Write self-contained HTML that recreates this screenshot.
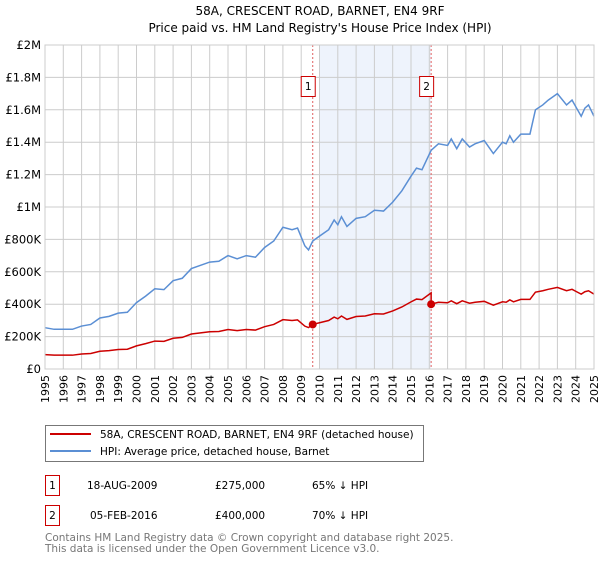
<!DOCTYPE html>
<html><head><meta charset="utf-8"><style>
body{margin:0;background:#fff;font-family:"DejaVu Sans","Liberation Sans",sans-serif;}
svg text{font-family:"DejaVu Sans","Liberation Sans",sans-serif;}
</style></head><body>
<svg id="c" width="600" height="560" xmlns="http://www.w3.org/2000/svg">
<text x="320" y="15" text-anchor="middle" font-size="12" fill="#000">58A, CRESCENT ROAD, BARNET, EN4 9RF</text>
<text x="320" y="32" text-anchor="middle" font-size="12" fill="#000">Price paid vs. HM Land Registry's House Price Index (HPI)</text>
<g id="grid"></g><g id="marks"></g><g id="axes"></g>
<g>
<rect x="45.5" y="425.5" width="378" height="36" fill="#fff" stroke="#777"/>
<line x1="50" y1="434" x2="91" y2="434" stroke="#cc0000" stroke-width="2"/>
<text x="100" y="438" font-size="10.5">58A, CRESCENT ROAD, BARNET, EN4 9RF (detached house)</text>
<line x1="50" y1="451" x2="91" y2="451" stroke="#5b8fd4" stroke-width="2"/>
<text x="100" y="455" font-size="10.5">HPI: Average price, detached house, Barnet</text>
</g>
<g font-size="10.5">
<rect x="45.5" y="475.5" width="14" height="20" fill="#fff" stroke="#cc0000"/>
<text x="52.5" y="489" text-anchor="middle">1</text>
<text x="87" y="489">18-AUG-2009</text><text x="215" y="489">£275,000</text><text x="312" y="489">65% ↓ HPI</text>
<rect x="45.5" y="505.5" width="14" height="20" fill="#fff" stroke="#cc0000"/>
<text x="52.5" y="519" text-anchor="middle">2</text>
<text x="90" y="519">05-FEB-2016</text><text x="215" y="519">£400,000</text><text x="312" y="519">70% ↓ HPI</text>
</g>
<text x="45" y="541" font-size="10.5" fill="#777">Contains HM Land Registry data © Crown copyright and database right 2025.</text>
<text x="45" y="552" font-size="10.5" fill="#777">This data is licensed under the Open Government Licence v3.0.</text>
</svg>
<script>
const hpiYears=[1995,1995.5,1996,1996.5,1997,1997.5,1998,1998.5,1999,1999.5,2000,2000.5,2001,2001.5,2002,2002.5,2003,2003.5,2004,2004.5,2005,2005.5,2006,2006.5,2007,2007.5,2008,2008.5,2008.8,2009.2,2009.4,2009.63,2010,2010.5,2010.8,2011,2011.2,2011.5,2012,2012.5,2013,2013.5,2014,2014.5,2015,2015.3,2015.6,2016.1,2016.5,2017,2017.2,2017.5,2017.8,2018.2,2018.5,2019,2019.5,2020,2020.2,2020.4,2020.6,2021,2021.5,2021.8,2022.2,2022.5,2023,2023.5,2023.8,2024,2024.3,2024.5,2024.7,2025];
const hpiValues=[255,245,245,245,265,275,315,325,345,350,410,450,495,490,545,560,620,640,660,665,700,680,700,690,750,790,875,860,870,760,735,790,820,860,920,890,940,880,930,940,980,975,1030,1100,1190,1240,1230,1350,1390,1380,1420,1360,1420,1370,1390,1410,1330,1400,1390,1440,1400,1450,1450,1600,1630,1660,1700,1630,1660,1620,1560,1610,1630,1560];
const saleYears=[2009.63,2016.1];
const salePrices=[275,400];
const saleLabels=["1","2"];
const yTicks=[0,200,400,600,800,1000,1200,1400,1600,1800,2000];
const yTickLabels=["£0","£200K","£400K","£600K","£800K","£1M","£1.2M","£1.4M","£1.6M","£1.8M","£2M"];
const xTicks=[];for(let y=1995;y<=2025;y++)xTicks.push(y);
const L=45,R=594,T=45,B=369;
const xS=v=>L+(v-1995)/30*(R-L), yS=v=>B-v/2000*(B-T);
const NS="http://www.w3.org/2000/svg";
function mk(tag,attrs,parent){const e=document.createElementNS(NS,tag);for(const k in attrs)e.setAttribute(k,attrs[k]);document.getElementById(parent).appendChild(e);return e;}
// shaded region
let sh=mk('rect',{x:xS(2010),y:T,width:xS(saleYears[1])-xS(2010),height:B-T,fill:'#eef3fc'},'grid');


xTicks.forEach(t=>{const g=mk('line',{x1:xS(t),x2:xS(t),y1:T,y2:B,stroke:'#ccc'},'grid');


const tx=mk('text',{x:0,y:0,'font-size':11,'text-anchor':'end',transform:`translate(${xS(t)+4},${B+6}) rotate(-90)`},'axes');tx.textContent=t;

});
yTicks.forEach((t,i)=>{const g=mk('line',{x1:L,x2:R,y1:yS(t),y2:yS(t),stroke:'#ccc'},'grid');


const tx=mk('text',{x:L-4,y:yS(t)+4,'font-size':11.5,'text-anchor':'end'},'axes');tx.textContent=yTickLabels[i];

});
function hpiAt(x){for(let i=1;i<hpiYears.length;i++){if(x<=hpiYears[i]){const f=(x-hpiYears[i-1])/(hpiYears[i]-hpiYears[i-1]);return hpiValues[i-1]+f*(hpiValues[i]-hpiValues[i-1]);}}return hpiValues[hpiValues.length-1];}
// property line: HPI-indexed from sale prices
const r0=salePrices[0]/hpiAt(saleYears[0]);
const r1=salePrices[1]/hpiAt(saleYears[1]);
let pp=[];
hpiYears.forEach((y,i)=>{if(y<saleYears[1])pp.push([y,hpiValues[i]*r0]);});
pp.push([saleYears[1],hpiAt(saleYears[1])*r0]);
pp.push([saleYears[1],salePrices[1]]);
hpiYears.forEach((y,i)=>{if(y>saleYears[1])pp.push([y,hpiValues[i]*r1]);});
// sale vlines
saleYears.forEach((s,i)=>{const l=mk('line',{x1:xS(s),x2:xS(s),y1:T,y2:B,stroke:'#e06060','stroke-dasharray':'2,2'},'marks');


const bx=mk('rect',{x:xS(s)-11.5,y:76.5,width:14,height:20,fill:'#fff',stroke:'#cc0000'},'marks');


const tx=mk('text',{x:xS(s)-4.5,y:90,'font-size':10.5,'text-anchor':'middle'},'marks');tx.textContent=saleLabels[i];

});
const hl=mk('polyline',{points:hpiYears.map((y,i)=>xS(y)+','+yS(hpiValues[i])).join(' '),fill:'none',stroke:'#5b8fd4','stroke-width':1.5},'marks');


const pl=mk('polyline',{points:pp.map(p=>xS(p[0])+','+yS(p[1])).join(' '),fill:'none',stroke:'#cc0000','stroke-width':1.5},'marks');


saleYears.forEach((s,i)=>{const c=mk('circle',{cx:xS(s),cy:yS(salePrices[i]),r:4,fill:'#cc0000'},'marks');

});
const ax=mk('rect',{x:L,y:T,width:R-L,height:B-T,fill:'none',stroke:'#ccc'},'axes');


</script>
</body></html>
